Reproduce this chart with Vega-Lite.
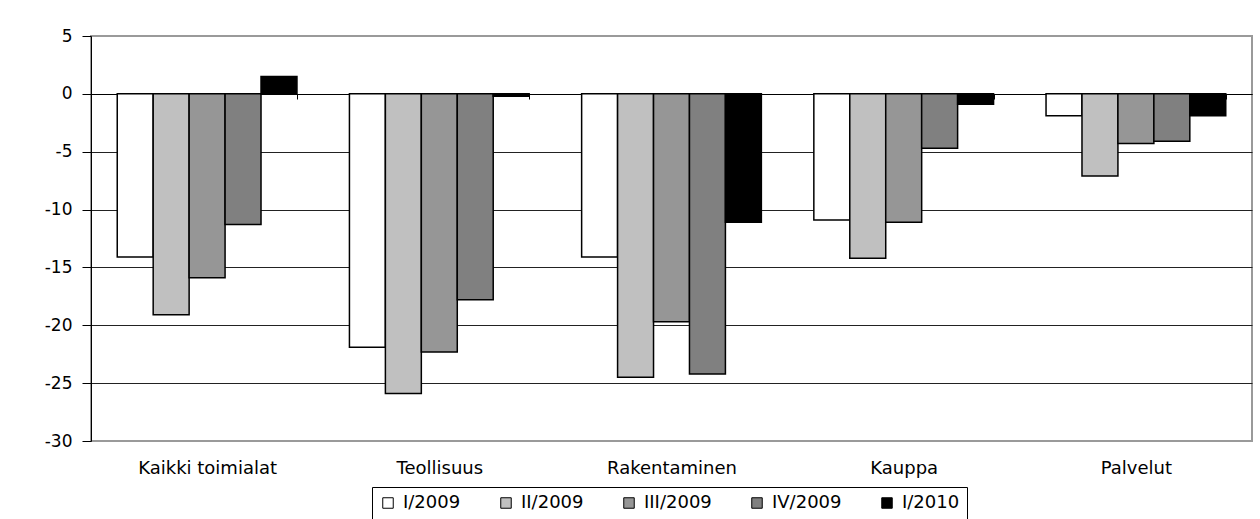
{
  "$schema": "https://vega.github.io/schema/vega-lite/v6.json",
  "width": 1161,
  "height": 405,
  "autosize": {"type": "none"},
  "padding": {"left": 91, "top": 36, "right": 8, "bottom": 78},
  "background": "white",
  "data": {
    "values": [
      {"toimiala": "Kaikki toimialat", "jakso": "I/2009", "arvo": -14.1},
      {"toimiala": "Kaikki toimialat", "jakso": "II/2009", "arvo": -19.1},
      {"toimiala": "Kaikki toimialat", "jakso": "III/2009", "arvo": -15.9},
      {"toimiala": "Kaikki toimialat", "jakso": "IV/2009", "arvo": -11.3},
      {"toimiala": "Kaikki toimialat", "jakso": "I/2010", "arvo": 1.5},
      {"toimiala": "Teollisuus", "jakso": "I/2009", "arvo": -21.9},
      {"toimiala": "Teollisuus", "jakso": "II/2009", "arvo": -25.9},
      {"toimiala": "Teollisuus", "jakso": "III/2009", "arvo": -22.3},
      {"toimiala": "Teollisuus", "jakso": "IV/2009", "arvo": -17.8},
      {"toimiala": "Teollisuus", "jakso": "I/2010", "arvo": -0.2},
      {"toimiala": "Rakentaminen", "jakso": "I/2009", "arvo": -14.1},
      {"toimiala": "Rakentaminen", "jakso": "II/2009", "arvo": -24.5},
      {"toimiala": "Rakentaminen", "jakso": "III/2009", "arvo": -19.7},
      {"toimiala": "Rakentaminen", "jakso": "IV/2009", "arvo": -24.2},
      {"toimiala": "Rakentaminen", "jakso": "I/2010", "arvo": -11.1},
      {"toimiala": "Kauppa", "jakso": "I/2009", "arvo": -10.9},
      {"toimiala": "Kauppa", "jakso": "II/2009", "arvo": -14.2},
      {"toimiala": "Kauppa", "jakso": "III/2009", "arvo": -11.1},
      {"toimiala": "Kauppa", "jakso": "IV/2009", "arvo": -4.7},
      {"toimiala": "Kauppa", "jakso": "I/2010", "arvo": -0.9},
      {"toimiala": "Palvelut", "jakso": "I/2009", "arvo": -1.9},
      {"toimiala": "Palvelut", "jakso": "II/2009", "arvo": -7.1},
      {"toimiala": "Palvelut", "jakso": "III/2009", "arvo": -4.3},
      {"toimiala": "Palvelut", "jakso": "IV/2009", "arvo": -4.1},
      {"toimiala": "Palvelut", "jakso": "I/2010", "arvo": -1.9}
    ]
  },
  "mark": {"type": "bar", "stroke": "black", "strokeWidth": 1.5},
  "encoding": {
    "x": {
      "field": "toimiala",
      "type": "nominal",
      "sort": ["Kaikki toimialat", "Teollisuus", "Rakentaminen", "Kauppa", "Palvelut"],
      "scale": {"paddingInner": 0.226, "paddingOuter": 0.113},
      "axis": {
        "title": null,
        "orient": "bottom",
        "offset": -347,
        "domainColor": "black",
        "domainWidth": 1,
        "tickBand": "extent",
        "tickColor": "black",
        "tickSize": 5,
        "labelPadding": 360,
        "labelAngle": 0,
        "labelBaseline": "top",
        "labelFont": "DejaVu Sans",
        "labelFontSize": 18,
        "labelColor": "black"
      }
    },
    "xOffset": {
      "field": "jakso",
      "type": "nominal",
      "sort": ["I/2009", "II/2009", "III/2009", "IV/2009", "I/2010"],
      "scale": {"paddingInner": 0, "paddingOuter": 0}
    },
    "y": {
      "field": "arvo",
      "type": "quantitative",
      "scale": {"domain": [-30, 5], "nice": false},
      "axis": {
        "title": null,
        "values": [-30, -25, -20, -15, -10, -5, 0, 5],
        "labelExpr": "'' + datum.value",
        "domainColor": "black",
        "domainWidth": 1,
        "tickColor": "black",
        "tickSize": 9,
        "labelPadding": 10,
        "labelFont": "DejaVu Sans",
        "labelFontSize": 17,
        "labelColor": "black",
        "grid": true,
        "gridColor": {"condition": {"test": "datum.value === 5 || datum.value === -30", "value": "transparent"}, "value": "#222222"},
        "gridWidth": 1
      }
    },
    "color": {
      "field": "jakso",
      "type": "nominal",
      "sort": ["I/2009", "II/2009", "III/2009", "IV/2009", "I/2010"],
      "scale": {
        "domain": ["I/2009", "II/2009", "III/2009", "IV/2009", "I/2010"],
        "range": ["#ffffff", "#c0c0c0", "#969696", "#808080", "#000000"]
      },
      "legend": {
        "title": null,
        "orient": "none",
        "legendX": 281,
        "legendY": 451,
        "direction": "horizontal",
        "strokeColor": "black",
        "padding": 7,
        "symbolType": "square",
        "symbolSize": 110,
        "symbolStrokeColor": "black",
        "symbolStrokeWidth": 1,
        "symbolOpacity": 1,
        "labelFont": "DejaVu Sans",
        "labelFontSize": 18,
        "labelColor": "black",
        "columnPadding": 36,
        "labelOffset": 6
      }
    }
  },
  "config": {"view": {"stroke": "#9a9a9a", "strokeWidth": 2}}
}
